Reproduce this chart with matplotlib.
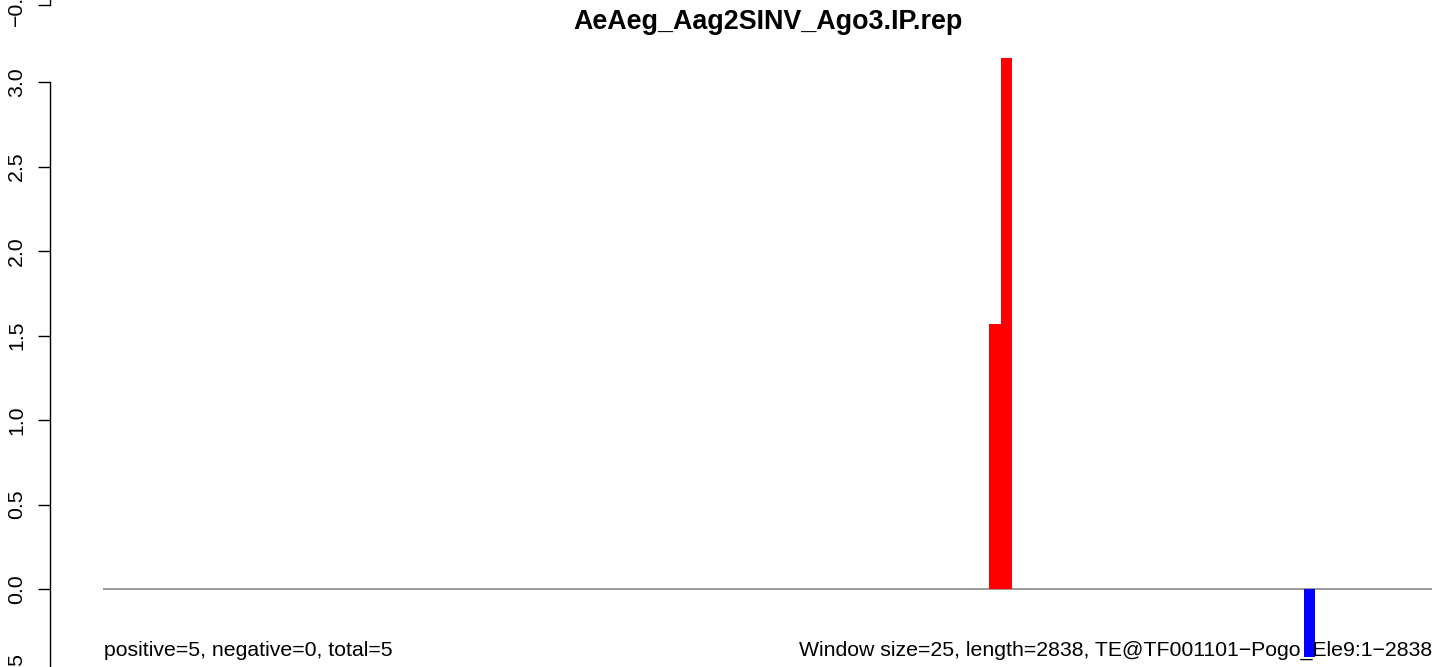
import numpy as np
import matplotlib
matplotlib.use("Agg")
import matplotlib.pyplot as plt

plt.rcParams['font.family'] = ['Liberation Sans', 'DejaVu Sans']

title = "AeAeg_Aag2SINV_Ago3.IP.rep"
window = 25
length = 2838
n_bins = 114

# windows with signal (bin index, value)
pos_bins = [76, 77]
pos_vals = [1.57, 3.14]
neg_bins = [103]
neg_vals = [-0.40]

left_note = "positive=5, negative=0, total=5"
right_note = "Window size=25, length=2838, TE@TF001101\u2212Pogo_Ele9:1\u22122838"
yticks = [-0.5, 0.0, 0.5, 1.0, 1.5, 2.0, 2.5, 3.0]

W, H = 1444, 667
PX = 72 / 100  # points per pixel at dpi 100
fig = plt.figure(figsize=(W / 100, H / 100), dpi=100)

# main panel: 0 at y=589px, 1 unit = 169px
ymin, ymax = -0.5, 3.2
unit = 169.0
y0 = 589.0
bot_px = y0 - ymin * unit
top_px = y0 - ymax * unit
ax = fig.add_axes([103 / W, (H - bot_px) / H, (1432 - 103) / W, (bot_px - top_px) / H])
ax.set_xlim(0, n_bins * window)
ax.set_ylim(ymin, ymax)

ax.bar(np.array(pos_bins) * window, pos_vals, width=window, align='edge',
       color='#ff0000', linewidth=0)
ax.bar(np.array(neg_bins) * window, neg_vals, width=window, align='edge',
       color='#0000ff', linewidth=0)
ax.axhline(0, color='#9a9a9a', lw=1.4, zorder=0)

for s in ['top', 'right', 'bottom']:
    ax.spines[s].set_visible(False)
ax.spines['left'].set_position(('outward', 53 * PX))
ax.spines['left'].set_bounds(-0.5, 3.0)
ax.spines['left'].set_linewidth(1.0)
ax.set_xticks([])
ax.set_yticks(yticks)
ax.set_yticklabels([f"{v:.1f}".replace('-', '\u2212') for v in yticks],
                   rotation=90, va='center', fontsize=15.3)
ax.tick_params(axis='y', length=12 * PX, width=1.0, pad=12 * PX)

# fragment of an upper panel's axis peeking in at the top
ax2 = fig.add_axes([103 / W, (H - 5) / H, (1432 - 103) / W, 0.3])
ax2.set_ylim(-0.5, 1.0)
for s in ['top', 'right', 'bottom']:
    ax2.spines[s].set_visible(False)
ax2.spines['left'].set_position(('outward', 53 * PX))
ax2.spines['left'].set_linewidth(1.0)
ax2.set_xticks([])
ax2.set_yticks([-0.5])
ax2.set_yticklabels(['\u22120.5'], rotation=90, va='center', fontsize=15.3)
ax2.tick_params(axis='y', length=12 * PX, width=1.0, pad=12 * PX)
ax2.patch.set_visible(False)

fig.text(768 / W, 1 - 22 / H, title, ha='center', va='center',
         fontsize=19.4, fontweight='bold')
fig.text(104 / W, 1 - 656 / H, left_note, ha='left', va='baseline', fontsize=15.3)
fig.text(1432 / W, 1 - 656 / H, right_note, ha='right', va='baseline', fontsize=15.3)

fig.savefig('out.png', dpi=100)
